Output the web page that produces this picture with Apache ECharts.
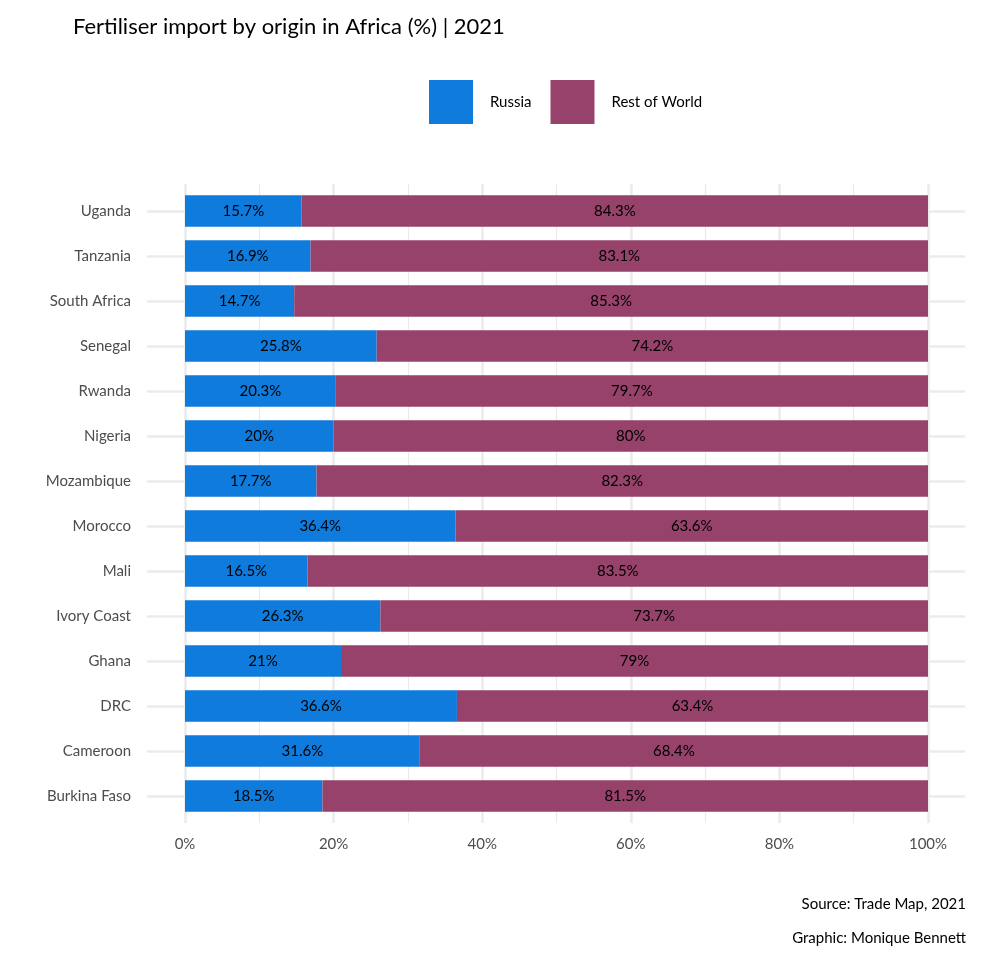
<!DOCTYPE html>
<html>
<head>
<meta charset="utf-8">
<script src="https://cdn.jsdelivr.net/npm/echarts@6/dist/echarts.min.js"></script>
<style>
html,body{margin:0;padding:0;background:#fff;}
#chart{width:985px;height:965px;}
</style>
</head>
<body>
<div id="chart"></div>
<script>
const countries = ["Uganda","Tanzania","South Africa","Senegal","Rwanda","Nigeria","Mozambique","Morocco","Mali","Ivory Coast","Ghana","DRC","Cameroon","Burkina Faso"];
const russia = [15.7,16.9,14.7,25.8,20.3,20,17.7,36.4,16.5,26.3,21,36.6,31.6,18.5];
const restOfWorld = [84.3,83.1,85.3,74.2,79.7,80,82.3,63.6,83.5,73.7,79,63.4,68.4,81.5];
const seriesNames = ["Russia","Rest of World"];

const FONT = 'Lato';
const GRID = '#ebebeb';
const chart = echarts.init(document.getElementById('chart'), null, {renderer:'canvas'});
chart.setOption({
  backgroundColor:'#fff',
  animation:false,
  textStyle:{fontFamily:FONT},
  title:[
    {text:'Fertiliser import by origin in Africa (%) | 2021', left:73, top:16, padding:0,
     textStyle:{fontFamily:FONT,fontSize:22,fontWeight:'normal',color:'#000'}},
    {text:'Source: Trade Map, 2021', right:19, top:897, padding:0,
     textStyle:{fontFamily:FONT,fontSize:15,fontWeight:'normal',color:'#000'}},
    {text:'Graphic: Monique Bennett', right:19, top:931, padding:0,
     textStyle:{fontFamily:FONT,fontSize:15,fontWeight:'normal',color:'#000'}}
  ],
  legend:{
    data:seriesNames, left:429, top:80, orient:'horizontal', padding:0,
    itemWidth:44, itemHeight:44, itemGap:19, icon:'rect',
    textStyle:{fontFamily:FONT,fontSize:15,color:'#000',padding:[2,0,0,12]}
  },
  grid:[
    {left:185, right:57, top:188.5, height:630},   // bars
    {left:185, right:57, top:184, height:639},     // vertical grid + x labels
    {left:147, right:20, top:211, height:585}      // horizontal grid + y labels
  ],
  xAxis:[
    {gridIndex:0, type:'value', min:0, max:100, show:false},
    {gridIndex:1, type:'value', min:0, max:100, interval:20,
     axisLine:{show:false}, axisTick:{show:false},
     axisLabel:{formatter:'{value}%', fontFamily:FONT, fontSize:15, color:'#4d4d4d', margin:14},
     splitLine:{show:true, lineStyle:{color:GRID, width:2.5}},
     minorTick:{show:false, splitNumber:2},
     minorSplitLine:{show:true, lineStyle:{color:GRID, width:1.2}}},
    {gridIndex:2, type:'value', min:0, max:1, show:false}
  ],
  yAxis:[
    {gridIndex:0, type:'category', data:countries, inverse:true, show:false},
    {gridIndex:1, type:'value', min:0, max:1, show:false},
    {gridIndex:2, type:'category', data:countries, inverse:true, boundaryGap:false,
     axisLine:{show:false}, axisTick:{show:false},
     axisLabel:{fontFamily:FONT, fontSize:15, color:'#4d4d4d', margin:16},
     splitLine:{show:true, lineStyle:{color:GRID, width:2.5}}}
  ],
  series:[
    {name:seriesNames[0], type:'bar', stack:'s', xAxisIndex:0, yAxisIndex:0, data:russia,
     barWidth:31.5, itemStyle:{color:'#0f7bdc'},
     label:{show:true, position:'inside', formatter:'{c}%', color:'#000', fontFamily:FONT, fontSize:15}},
    {name:seriesNames[1], type:'bar', stack:'s', xAxisIndex:0, yAxisIndex:0, data:restOfWorld,
     barWidth:31.5, itemStyle:{color:'#96426a'},
     label:{show:true, position:'inside', formatter:'{c}%', color:'#000', fontFamily:FONT, fontSize:15}}
  ]
});
</script>
</body>
</html>
